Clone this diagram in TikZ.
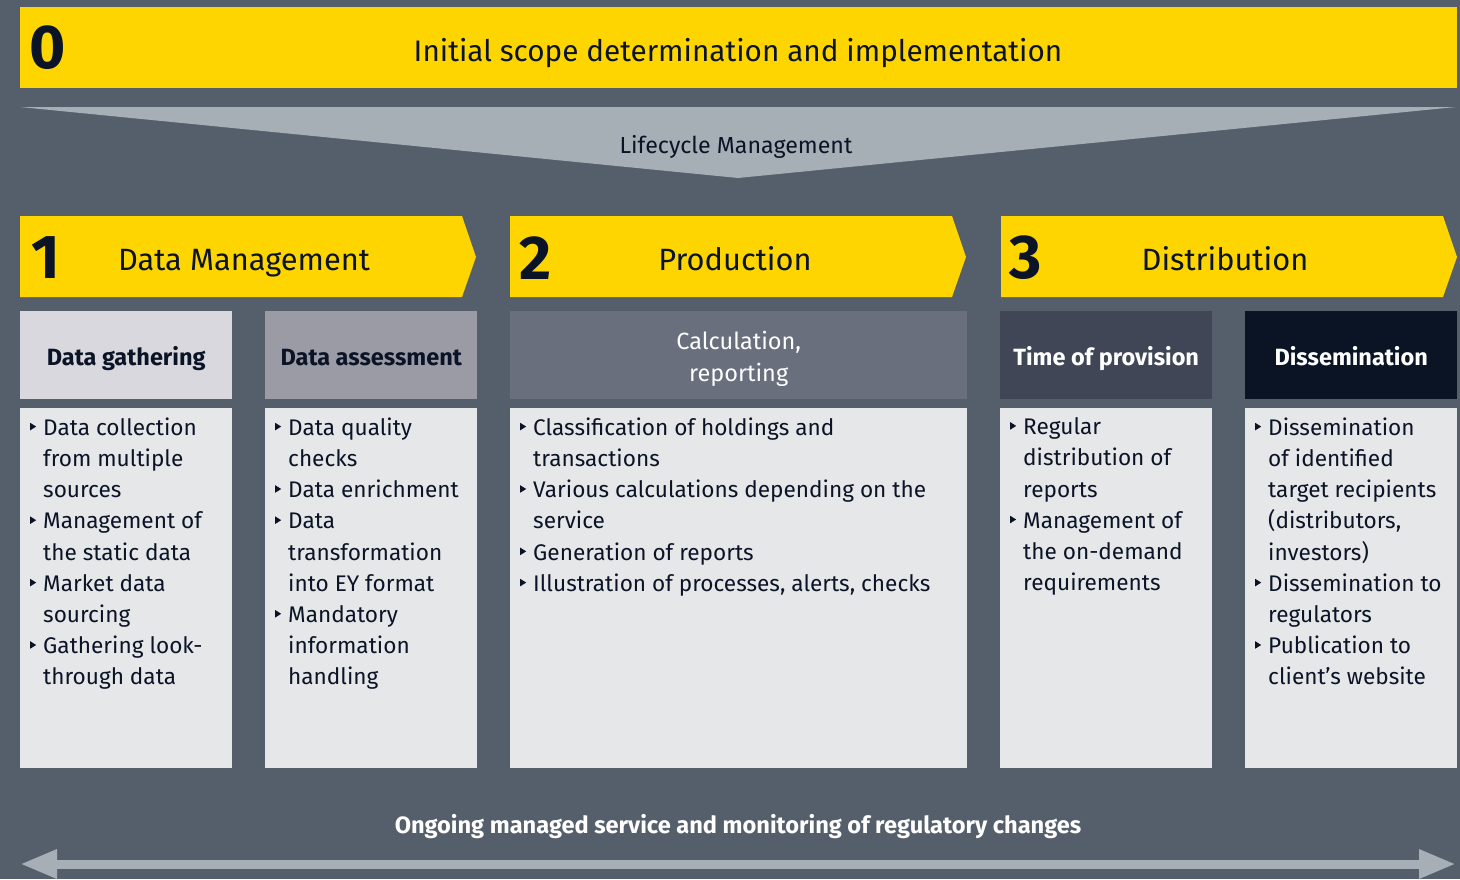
\documentclass[tikz,border=0pt]{standalone}
\usepackage{fontspec}
\setmainfont{Fira Sans}
\usetikzlibrary{positioning,arrows.meta}

\definecolor{slate}{HTML}{555F6B}
\definecolor{eyyellow}{HTML}{FFD500}
\definecolor{ink}{HTML}{0B1426}
\definecolor{lifegrey}{HTML}{A6AEB6}
\definecolor{headA}{HTML}{D8D8DE}
\definecolor{headB}{HTML}{9B9BA6}
\definecolor{headC}{HTML}{696F7C}
\definecolor{headD}{HTML}{404655}
\definecolor{headE}{HTML}{0A1425}
\definecolor{bodygrey}{HTML}{E6E7E9}

\newcommand\bul{\llap{\tikz[x=1pt,y=1pt,baseline=0pt]\fill[ink] (0,5) -- (0,12.5) -- (6,8.75) -- cycle;\hspace{7pt}}}

\tikzset{
  phasebox/.style={fill=eyyellow},
  bignum/.style={anchor=west, inner sep=0pt, text=ink, font=\bfseries\fontsize{62}{62}\selectfont},
  phasetitle/.style={anchor=base, inner sep=0pt, text=ink, font=\fontsize{30.8}{30.8}\selectfont},
  headbox/.style={anchor=north west, minimum width=212pt, minimum height=88pt, inner sep=0pt, align=center,
    text height=22pt, text depth=2pt, font=\bfseries\fontsize{23.5}{32}\selectfont},
  bodybox/.style={anchor=north west, fill=bodygrey, minimum width=212pt, minimum height=360pt, inner sep=0pt},
  listtext/.style={anchor=north west, inner sep=0pt, align=left, text=ink, font=\fontsize{22.6}{31.2}\selectfont},
  lifeline/.style={line width=9pt, draw=lifegrey, {Triangle[width=27pt,length=37pt]}-{Triangle[width=27pt,length=37pt]}},
}

\begin{document}
\begin{tikzpicture}[x=1pt,y=-1pt]
  \fill[slate] (0,0) rectangle (1460,879);
  \useasboundingbox (0,0) rectangle (1460,879);

  % phase 0 and lifecycle
  \fill[phasebox] (20,7) rectangle (1457,88);
  \node[bignum] (zero) at (29,48) {0};
  \node[phasetitle, font=\fontsize{29.7}{29.7}\selectfont] (scope) at (738,61) {Initial scope determination and implementation};
  \fill[lifegrey] (20,107) -- (1456,107) -- (738,178) -- cycle;
  \node[anchor=base, inner sep=0pt, text=ink, font=\fontsize{23.2}{23.2}\selectfont] (life) at (736,153) {Lifecycle Management};

  % phases 1 to 3
  \foreach \x in {20,510,1001} {
    \fill[phasebox] (\x,216) -- (\x+442,216) -- (\x+456,257) -- (\x+442,297) -- (\x,297) -- cycle;
  }
  \node[bignum] (one) at (31,258) {1};
  \node[phasetitle] (datamgmt) at (244,270) {Data Management};
  \node[bignum] (two) at (519,258) {2};
  \node[phasetitle] (production) at (735,270) {Production};
  \node[bignum] (three) at (1009,258) {3};
  \node[phasetitle] (distribution) at (1225,270) {Distribution};

  % column headers
  \node[headbox, fill=headA, text=ink] (gather) at (20,311) {Data gathering};
  \node[headbox, fill=headB, text=ink] (assess) at (265,311) {Data assessment};
  \node[headbox, fill=headC, minimum width=457pt] (calc) at (510,311) {};
  \node[anchor=base, inner sep=0pt, align=center, text=white, font=\fontsize{23.5}{32}\selectfont]
    (calctext) at ([yshift=-70pt]calc.north) {Calculation,\\ reporting};
  \node[headbox, fill=headD, text=white] (provision) at (1000,311) {Time of provision};
  \node[headbox, fill=headE, text=white] (dissem) at (1245,311) {Dissemination};

  % column bodies
  \node[bodybox] (gatherbody) at (20,408) {};
  \node[bodybox] (assessbody) at (265,408) {};
  \node[bodybox, minimum width=457pt] (calcbody) at (510,408) {};
  \node[bodybox] (provisionbody) at (1000,408) {};
  \node[bodybox] (dissembody) at (1245,408) {};

  \node[listtext] (gatherlist) at (43,417.5) {\bul Data collection\\ from multiple\\ sources\\
    \bul Management of\\ the static data\\ \bul Market data\\ sourcing\\
    \bul Gathering look-\\ through data};
  \node[listtext] (assesslist) at (288,417.5) {\bul Data quality\\ checks\\ \bul Data enrichment\\
    \bul Data\\ transformation\\ into EY format\\ \bul Mandatory\\ information\\ handling};
  \node[listtext] (calclist) at (533,417.5) {\bul Classification of holdings and\\ transactions\\
    \bul Various calculations depending on the\\ service\\ \bul Generation of reports\\
    \bul Illustration of processes, alerts, checks};
  \node[listtext] (provisionlist) at (1023,417.5) {\bul Regular\\ distribution of\\ reports\\
    \bul Management of\\ the on-demand\\ requirements};
  \node[listtext] (dissemlist) at (1268,417.5) {\bul Dissemination\\ of identified\\ target recipients\\
    (distributors,\\ investors)\\ \bul Dissemination to\\ regulators\\
    \bul Publication to\\ client’s website};

  % ongoing service
  \node[anchor=base, inner sep=0pt, text=white, font=\bfseries\fontsize{23.6}{23.6}\selectfont] (ongoing) at (738,833) {Ongoing managed service and monitoring of regulatory changes};
  \coordinate (ongoingL) at (20,864);
  \coordinate (ongoingR) at (1456,864);
  \draw[lifeline] (ongoingL) -- (ongoingR);
\end{tikzpicture}
\end{document}
